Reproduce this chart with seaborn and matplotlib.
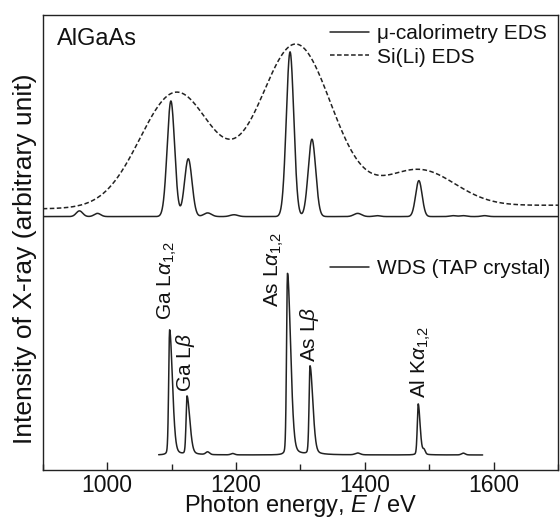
import numpy as np
import pandas as pd
import matplotlib
matplotlib.use("Agg")
import matplotlib.pyplot as plt
import seaborn as sns
from matplotlib.ticker import MultipleLocator
from matplotlib.lines import Line2D

# ---------------- data ----------------
# mu-calorimetry EDS trace (upper, solid): Gaussian lines
cal_centers = [957, 985, 1099, 1126, 1156, 1197, 1284, 1318, 1389, 1419, 1484, 1537, 1553, 1586]
cal_heights = [0.0125, 0.007, 0.254, 0.127, 0.008, 0.004, 0.362, 0.170, 0.007, 0.002, 0.079, 0.002, 0.002, 0.002]
cal_sigmas = [5.0, 5.0, 5.8, 5.8, 6.0, 6.0, 5.8, 5.8, 6.0, 5.0, 5.0, 5.0, 5.0, 5.0]
cal_baseline = 0.557

# Si(Li) EDS trace (upper, dashed): broad Gaussian envelopes
sili_centers = [1107, 1293, 1484]
sili_heights = [0.253, 0.357, 0.080]
sili_sigmas = [56, 56, 56]
sili_baseline_ends = [0.574, 0.582]

# WDS (TAP crystal) trace (lower, solid): asymmetric sharp lines
wds_centers = [1097, 1124, 1156, 1195, 1280, 1315, 1389, 1483, 1492, 1553]
wds_heights = [0.275, 0.128, 0.006, 0.003, 0.399, 0.194, 0.004, 0.112, 0.010, 0.004]
wds_left_w = [1.5, 1.5, 3.0, 3.0, 1.5, 1.5, 4.0, 1.5, 2.0, 3.0]
wds_right_w = [4.5, 4.5, 3.0, 3.0, 5.0, 4.5, 4.0, 3.0, 2.0, 3.0]
wds_baseline = 0.033
wds_range = [1080, 1583]

energy_range = [900, 1700]
x_ticks = [1000, 1200, 1400, 1600]

peak_labels = ["Ga L$\\alpha_{1{,}2}$", "Ga L$\\beta$", "As L$\\alpha_{1{,}2}$", "As L$\\beta$", "Al K$\\alpha_{1{,}2}$"]
peak_label_x = [1093, 1122, 1259, 1314, 1487]
peak_label_y = [0.330, 0.172, 0.359, 0.238, 0.158]

# ---------------- build curves ----------------
E = np.arange(energy_range[0], energy_range[1] + 0.001, 0.25)
cal = np.full_like(E, cal_baseline)
for c, h, s in zip(cal_centers, cal_heights, cal_sigmas):
    cal += h * np.exp(-(E - c) ** 2 / (2 * s ** 2))

sili = np.interp(E, energy_range, sili_baseline_ends)
for c, h, s in zip(sili_centers, sili_heights, sili_sigmas):
    sili += h * np.exp(-(E - c) ** 2 / (2 * s ** 2))

Ew = np.arange(wds_range[0], wds_range[1] + 0.001, 0.25)
wds = np.full_like(Ew, wds_baseline)
eta = 0.25
for c, h, wl, wr in zip(wds_centers, wds_heights, wds_left_w, wds_right_w):
    w = np.where(Ew < c, wl, wr)
    d = Ew - c
    g = np.exp(-d ** 2 / (2 * w ** 2))
    lor = w ** 2 / (w ** 2 + d ** 2)
    wds += h * ((1 - eta) * g + eta * lor)

df_top = pd.DataFrame({"E": E, "cal": cal, "sili": sili})
df_wds = pd.DataFrame({"E": Ew, "wds": wds})

# ---------------- plot ----------------
sns.set_theme(style="ticks")
plt.rcParams["font.family"] = ["Liberation Sans", "DejaVu Sans"]
plt.rcParams["mathtext.fontset"] = "custom"
plt.rcParams["mathtext.rm"] = "Liberation Sans"
plt.rcParams["mathtext.it"] = "Liberation Sans:italic"
plt.rcParams["axes.edgecolor"] = "#222222"
plt.rcParams["axes.linewidth"] = 1.0

fig = plt.figure(figsize=(5.6, 5.19), dpi=100)
ax = fig.add_axes([0.0763, 0.0944, 0.9201, 0.8767])

lc = "#222222"
dash = (0, (3.0, 1.6))
sns.lineplot(data=df_top, x="E", y="cal", ax=ax, color=lc, lw=1.1, estimator=None, sort=False)
sns.lineplot(data=df_top, x="E", y="sili", ax=ax, color=lc, lw=1.1, estimator=None, sort=False,
             linestyle=dash)
sns.lineplot(data=df_wds, x="E", y="wds", ax=ax, color=lc, lw=1.1, estimator=None, sort=False)

ax.set_xlim(*energy_range)
ax.set_ylim(0, 1)
ax.set_yticks([])
ax.set_xticks(x_ticks)
ax.xaxis.set_minor_locator(MultipleLocator(100))
ax.tick_params(axis="x", which="major", direction="in", length=6, width=1.0, color="#222222",
               labelsize=16.5, pad=3, labelcolor="#111111")
ax.tick_params(axis="x", which="minor", direction="in", length=4, width=1.0, color="#222222")
for sp in ax.spines.values():
    sp.set_visible(True)
    sp.set_color("#222222")

ax.set_xlabel("Photon energy, $E$ / eV", fontsize=17, color="#111111")
ax.set_ylabel("Intensity of X-ray (arbitrary unit)", fontsize=19, color="#111111")
ax.yaxis.set_label_coords(-0.012, 0.464)
ax.xaxis.set_label_coords(0.5, -0.050)

ax.text(0.027, 0.934, "AlGaAs", transform=ax.transAxes, fontsize=17, ha="left", va="baseline",
        color="#111111")

for lab, x, y in zip(peak_labels, peak_label_x, peak_label_y):
    ax.text(x, y, lab, rotation=90, ha="center", va="bottom", fontsize=15, color="#111111")

h1 = Line2D([], [], color=lc, lw=1.1)
h2 = Line2D([], [], color=lc, lw=1.1, linestyle=dash)
leg_kw = dict(loc="upper left", frameon=False, fontsize=15, handlelength=1.85,
              handletextpad=0.42, labelspacing=0.22, borderpad=0, borderaxespad=0)
leg1 = ax.legend([h1, h2], ["\u03bc-calorimetry EDS", "Si(Li) EDS"],
                 bbox_to_anchor=((330 - 42.7) / 515.3, (470 - 24) / 455), **leg_kw)
for t in leg1.get_texts():
    t.set_color("#111111")
ax.add_artist(leg1)
leg2 = ax.legend([h1], ["WDS (TAP crystal)"],
                 bbox_to_anchor=((330 - 42.7) / 515.3, (470 - 259) / 455), **leg_kw)
for t in leg2.get_texts():
    t.set_color("#111111")

fig.savefig("out.png", dpi=100)
